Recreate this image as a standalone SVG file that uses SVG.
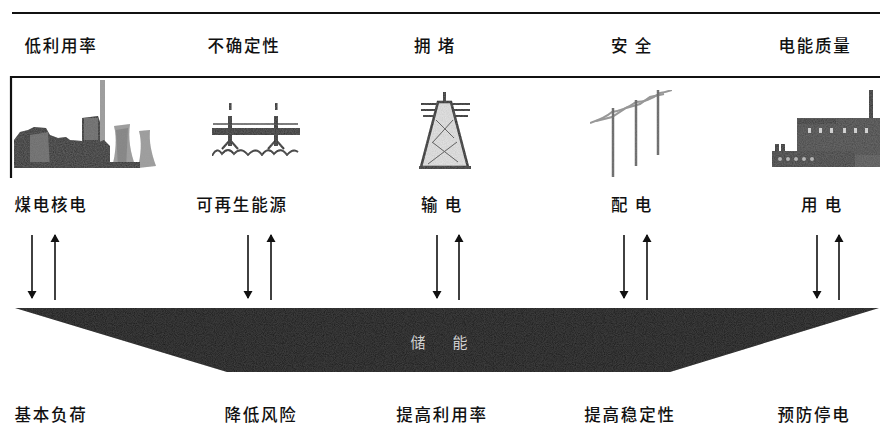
<svg xmlns="http://www.w3.org/2000/svg" width="880" height="436" viewBox="0 0 880 436">
  <style>
    .lbl { font-family: "Noto Sans CJK SC", "Noto Sans", sans-serif; font-size: 16.5px; font-weight: 500; fill: #111; text-anchor: middle; letter-spacing: 1.8px; }
    .band-lbl { font-family: "Noto Sans CJK SC", "Noto Sans", sans-serif; font-size: 15px; fill: #d0d0d0; text-anchor: middle; }
    .rule { stroke: #111; stroke-width: 2.2; fill: none; }
    .conn { stroke: #111; stroke-width: 1.6; fill: none; }
    .ink { fill: #2a2a2a; }
    .grey { fill: #6a6a6a; }
    .light { fill: #a0a0a0; }
    .pole { stroke: #666; stroke-width: 2.4; fill: none; }
    .wire { stroke: #999; stroke-width: 2; fill: none; }
  </style>
  <defs>
    <marker id="head" viewBox="0 0 8 12" refX="7" refY="6" markerWidth="8" markerHeight="12" markerUnits="userSpaceOnUse" orient="auto">
      <path d="M0,1.5 L8,6 L0,10.5 Z" fill="#111"/>
    </marker>
    <filter id="grain" x="0" y="0" width="100%" height="100%">
      <feTurbulence type="fractalNoise" baseFrequency="0.9" numOctaves="2" seed="3" result="n"/>
      <feColorMatrix in="n" type="matrix" values="0 0 0 0 0.3  0 0 0 0 0.3  0 0 0 0 0.3  0 0 0 0.4 0" result="g"/>
      <feComposite in="g" in2="SourceGraphic" operator="in" result="gm"/>
      <feMerge><feMergeNode in="SourceGraphic"/><feMergeNode in="gm"/></feMerge>
    </filter>
    <filter id="grain-dark" x="0" y="0" width="100%" height="100%">
      <feTurbulence type="fractalNoise" baseFrequency="1.1" numOctaves="1" seed="7" result="n"/>
      <feColorMatrix in="n" type="matrix" values="0 0 0 0 0.22  0 0 0 0 0.22  0 0 0 0 0.22  0 0 0 0.25 0" result="g"/>
      <feComposite in="g" in2="SourceGraphic" operator="in" result="gm"/>
      <feMerge><feMergeNode in="SourceGraphic"/><feMergeNode in="gm"/></feMerge>
    </filter>
  </defs>

  <rect width="880" height="436" fill="#fff"/>

  <!-- frame rules -->
  <g id="frame">
    <line class="rule" x1="12" y1="13" x2="880" y2="13"/>
    <line class="rule" x1="10" y1="77" x2="880" y2="77"/>
    <line class="rule" x1="11" y1="76" x2="11" y2="178"/>
  </g>

  <!-- issues at each stage -->
  <g id="issue-utilisation"><text class="lbl" x="61" y="52">低利用率</text></g>
  <g id="issue-uncertainty"><text class="lbl" x="244" y="52">不确定性</text></g>
  <g id="issue-congestion"><text class="lbl" x="435" y="52">拥 堵</text></g>
  <g id="issue-safety"><text class="lbl" x="632" y="52">安 全</text></g>
  <g id="issue-quality"><text class="lbl" x="815" y="52">电能质量</text></g>

  <!-- coal / nuclear generation -->
  <g id="node-generation" filter="url(#grain)">
    <rect class="light" x="100" y="80" width="5" height="62"/>
    <path class="ink" d="M14,168 L14,140 L20,132 L28,130 L34,127 L46,128 L50,135 L58,138 L66,137 L70,140 L82,141 L82,118 L98,116 L100,122 L100,168 Z"/>
    <path class="grey" d="M30,168 L30,135 L48,132 L50,168 Z"/>
    <rect class="grey" x="84" y="118" width="14" height="22"/>
    <path class="ink" d="M62,168 L62,146 L75,143 L90,146 L104,140 L110,146 L110,168 Z"/>
    <path class="light" d="M112,168 C116,152 117,138 114,126 L130,124 C128,138 130,152 136,168 Z"/>
    <path class="light" d="M138,168 C141,154 142,142 139,131 L150,130 C149,142 151,152 156,166 Z"/>
    <path class="grey" d="M116,130 L128,128 L126,168 L118,168 Z" opacity="0.5"/>
    <rect class="ink" x="14" y="162" width="126" height="6"/>
  </g>

  <!-- renewable energy -->
  <g id="node-renewable" filter="url(#grain)">
    <rect class="ink" x="229" y="103" width="2.5" height="7"/>
    <rect class="ink" x="275" y="103" width="2.5" height="7"/>
    <line stroke="#444" stroke-width="1.4" x1="213" y1="124" x2="298" y2="124"/>
    <rect class="ink" x="212" y="128" width="88" height="7"/>
    <rect class="ink" x="228" y="116" width="4" height="30"/>
    <rect class="ink" x="274" y="116" width="4" height="30"/>
    <path d="M222,149 L230,140 L238,149 M268,149 L276,140 L284,149" stroke="#222" stroke-width="2" fill="none"/>
    <path d="M212,156 Q217,146 222,154 Q228,146 234,154 Q241,146 248,155 Q256,146 262,155 Q268,146 274,154 Q281,146 287,155 Q293,148 298,152" stroke="#222" stroke-width="1.8" fill="none"/>
  </g>

  <!-- transmission tower -->
  <g id="node-transmission" filter="url(#grain)">
    <rect class="ink" x="443" y="92" width="3" height="10"/>
    <line stroke="#222" stroke-width="2" x1="421" y1="104" x2="470" y2="104"/>
    <line stroke="#222" stroke-width="2" x1="421" y1="110" x2="470" y2="110"/>
    <line stroke="#222" stroke-width="2" x1="423" y1="116" x2="468" y2="116"/>
    <path d="M438,102 L451,102 L468,167 L421,167 Z" fill="#e6e6e6" stroke="#222" stroke-width="2.5"/>
    <path d="M436,120 L454,138 M453,120 L433,142 M432,142 L458,162 M457,142 L428,164" stroke="#555" stroke-width="1" fill="none"/>
    <rect class="ink" x="419" y="166" width="52" height="3"/>
  </g>

  <!-- distribution poles -->
  <g id="node-distribution" filter="url(#grain)">
    <path class="wire" d="M590,123 Q605,118 612,112 Q625,110 636,102 Q648,102 660,93 Q666,92 672,90"/>
    <path class="wire" d="M596,121 L612,117 L626,108 L640,104 L650,97 L664,94"/>
    <line class="pole" x1="613" y1="108" x2="613" y2="177"/>
    <line class="pole" x1="636" y1="100" x2="636" y2="166"/>
    <line class="pole" x1="658" y1="90" x2="658" y2="155"/>
  </g>

  <!-- consumer load (factory) -->
  <g id="node-consumption" filter="url(#grain)">
    <rect class="ink" x="869" y="90" width="4" height="38"/>
    <rect fill="#444" x="797" y="118" width="83" height="38"/>
    <rect fill="#333" x="798" y="119" width="38" height="5"/>
    <rect fill="#ddd" x="808" y="128" width="3" height="5"/>
    <rect fill="#ddd" x="819" y="128" width="3" height="5"/>
    <rect fill="#ddd" x="830" y="128" width="3" height="5"/>
    <rect fill="#ddd" x="843" y="128" width="3" height="5"/>
    <rect fill="#ddd" x="854" y="128" width="3" height="5"/>
    <rect fill="#ddd" x="865" y="128" width="3" height="5"/>
    <rect class="ink" x="775" y="144" width="4" height="8"/>
    <rect class="ink" x="781" y="144" width="4" height="8"/>
    <rect fill="#3a3a3a" x="772" y="151" width="83" height="16"/>
    <rect fill="#555" x="855" y="155" width="25" height="12"/>
    <circle cx="780" cy="159" r="2" fill="#bbb"/>
    <circle cx="788" cy="159" r="2" fill="#bbb"/>
    <circle cx="796" cy="159" r="2" fill="#bbb"/>
    <circle cx="804" cy="159" r="2" fill="#bbb"/>
    <circle cx="812" cy="159" r="2" fill="#bbb"/>
  </g>

  <!-- stage names -->
  <g id="stage-generation"><text class="lbl" x="51" y="211">煤电核电</text></g>
  <g id="stage-renewable"><text class="lbl" x="242" y="211">可再生能源</text></g>
  <g id="stage-transmission"><text class="lbl" x="442" y="211">输 电</text></g>
  <g id="stage-distribution"><text class="lbl" x="632" y="211">配 电</text></g>
  <g id="stage-consumption"><text class="lbl" x="822" y="211">用 电</text></g>

  <!-- exchange arrows between each stage and storage -->
  <g id="connectors">
    <line class="conn" x1="32" y1="235" x2="32" y2="298" marker-end="url(#head)"/>
    <line class="conn" x1="55" y1="300" x2="55" y2="235" marker-end="url(#head)"/>
    <line class="conn" x1="248" y1="235" x2="248" y2="298" marker-end="url(#head)"/>
    <line class="conn" x1="271" y1="300" x2="271" y2="235" marker-end="url(#head)"/>
    <line class="conn" x1="437" y1="235" x2="437" y2="298" marker-end="url(#head)"/>
    <line class="conn" x1="459" y1="300" x2="459" y2="235" marker-end="url(#head)"/>
    <line class="conn" x1="624" y1="235" x2="624" y2="298" marker-end="url(#head)"/>
    <line class="conn" x1="647" y1="300" x2="647" y2="235" marker-end="url(#head)"/>
    <line class="conn" x1="817" y1="235" x2="817" y2="298" marker-end="url(#head)"/>
    <line class="conn" x1="839" y1="300" x2="839" y2="235" marker-end="url(#head)"/>
  </g>

  <!-- storage band -->
  <g id="node-storage">
    <polygon points="15,308 879,308 670,372 227,372" fill="#141414" filter="url(#grain-dark)"/>
    <text class="band-lbl" x="418" y="348">储</text>
    <text class="band-lbl" x="460" y="348">能</text>
  </g>

  <!-- benefits -->
  <g id="benefit-baseload"><text class="lbl" x="51" y="421">基本负荷</text></g>
  <g id="benefit-risk"><text class="lbl" x="261" y="421">降低风险</text></g>
  <g id="benefit-utilisation"><text class="lbl" x="442" y="421">提高利用率</text></g>
  <g id="benefit-stability"><text class="lbl" x="630" y="421">提高稳定性</text></g>
  <g id="benefit-outage"><text class="lbl" x="814" y="421">预防停电</text></g>
</svg>
